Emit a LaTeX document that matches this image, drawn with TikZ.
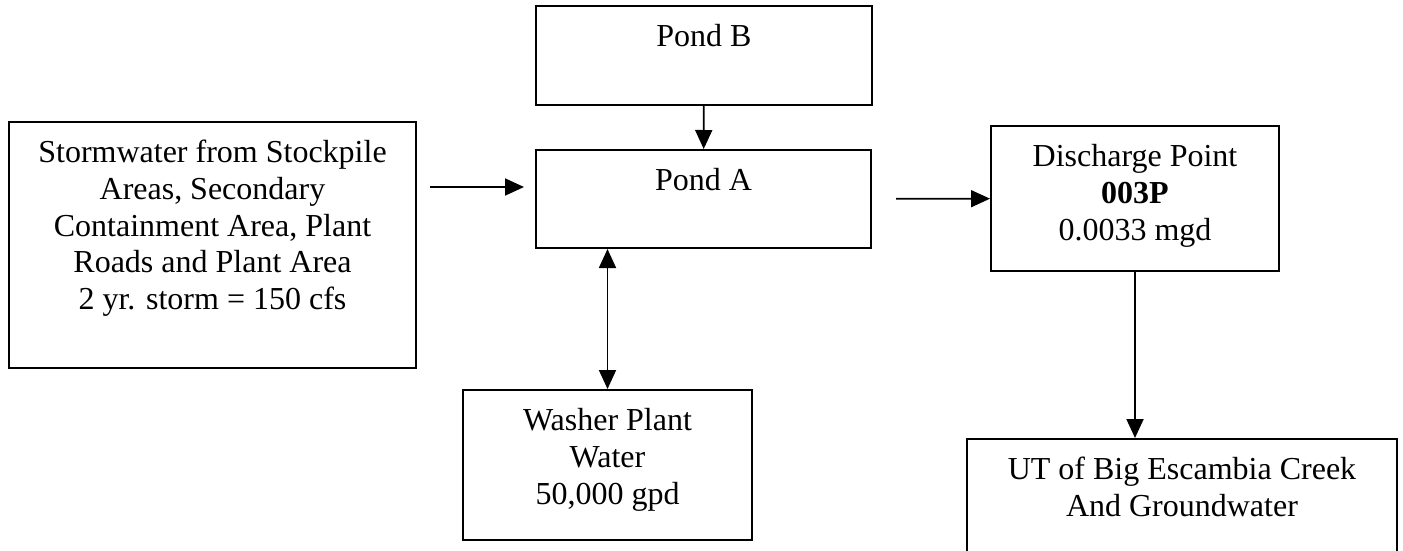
\documentclass[tikz,border=0pt]{standalone}
\usepackage{fontspec}
\setmainfont{Liberation Serif}
\usetikzlibrary{positioning,arrows.meta}
\tikzset{
	pond/.style={draw,line width=2pt,inner sep=0pt},
	lbl/.style={inner sep=0pt,align=center,font=\fontsize{32}{36.75}\selectfont},
}
\begin{document}
\begin{tikzpicture}[x=1pt,y=-1pt,line width=1.8pt,>={Triangle[length=19pt,width=17pt]}]
	\clip (0,0) rectangle (1403,550);
	% boxes
	\node[pond,minimum width=336pt,minimum height=99pt] (pondB) at (704,55.5) {};
	\node[pond,minimum width=335pt,minimum height=98pt] (pondA) at (703.5,199) {};
	\node[pond,minimum width=407pt,minimum height=246pt] (storm) at (212.5,245) {};
	\node[pond,minimum width=288pt,minimum height=145pt] (discharge) at (1135,198.5) {};
	\node[pond,minimum width=289pt,minimum height=150pt] (washer) at (607.5,465) {};
	\node[pond,minimum width=430pt,minimum height=131pt] (ut) at (1182,504.5) {};
	% texts
	\node[lbl,below=15pt of pondB.north] (pondBtxt) {\strut Pond B};
	\node[lbl,below=15pt of pondA.north] (pondAtxt) {\strut Pond A};
	\node[lbl,below=15pt of storm.north] (stormtxt) {\strut Stormwater from Stockpile\\Areas, Secondary\\Containment Area, Plant\\Roads and Plant Area\\2 yr. storm = 150 cfs};
	\node[lbl,below=15pt of discharge.north] (dischargetxt) {\strut Discharge Point\\\textbf{003P}\\0.0033 mgd};
	\node[lbl,below=15pt of washer.north] (washertxt) {\strut Washer Plant\\Water\\50,000 gpd};
	\node[lbl,below=15pt of ut.north] (uttxt) {\strut UT of Big Escambia Creek\\And Groundwater};
	% flows
	\coordinate (inA) at ([yshift=12pt]pondA.west);
	\draw[->] (pondB) -- (pondA);
	\draw[->,shorten <=13pt,shorten >=11pt] (storm.east |- inA) -- (inA);
	\draw[->,shorten <=24pt] (pondA) -- (discharge);
	\draw[<->] (pondA.south -| washer) -- (washer);
	\draw[->] (discharge) -- (discharge |- ut.north);
\end{tikzpicture}
\end{document}
